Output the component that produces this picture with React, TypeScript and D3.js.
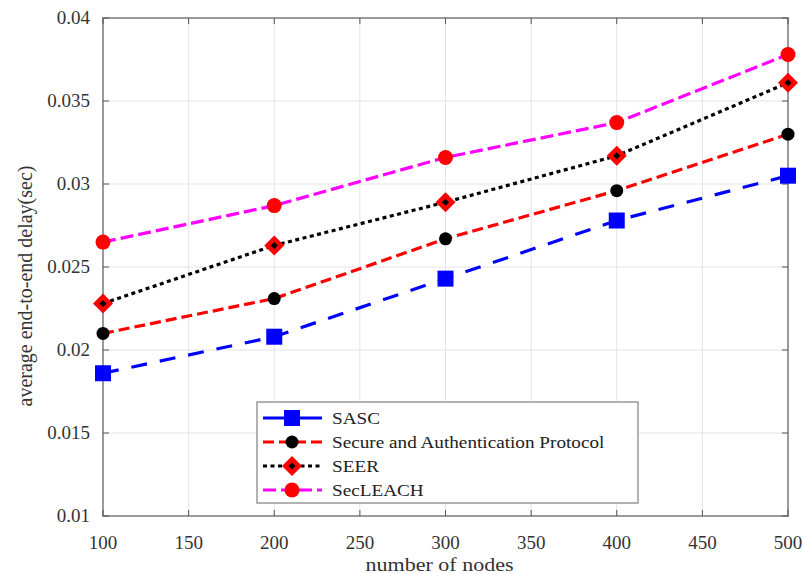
import React from 'react';
import * as d3 from 'd3';

// values
const nodes = [100, 200, 300, 400, 500];
const sasc = [0.0186, 0.0208, 0.0243, 0.0278, 0.0305];
const secAuth = [0.021, 0.0231, 0.0267, 0.0296, 0.033];
const seer = [0.0228, 0.0263, 0.0289, 0.0317, 0.0361];
const secLeach = [0.0265, 0.0287, 0.0316, 0.0337, 0.0378];

const xTicks = [100, 150, 200, 250, 300, 350, 400, 450, 500];
const yTicks = [0.01, 0.015, 0.02, 0.025, 0.03, 0.035, 0.04];

const series = [
    {name: 'SASC', values: sasc, color: '#0000ff', dash: '16,13', marker: 'square'},
    {name: 'Secure and Authentication Protocol', values: secAuth, color: '#ff0000', dash: '11,5', marker: 'circle'},
    {name: 'SEER', values: seer, color: '#000000', dash: '4,3.5', marker: 'diamond'},
    {name: 'SecLEACH', values: secLeach, color: '#ff00ff', dash: '13,5', marker: 'redcircle'},
];

const W = 803, H = 574;
const left = 103, right = 788, top = 18, bottom = 516;
const font = '"Liberation Serif", "Times New Roman", serif';

const Marker = ({type, x, y}) => {
    if (type === 'square') {
        return <rect x={x - 8} y={y - 8} width={16} height={16} fill="#0000ff" />;
    }
    if (type === 'circle') {
        return <circle cx={x} cy={y} r={6.5} fill="#000" />;
    }
    if (type === 'redcircle') {
        return <circle cx={x} cy={y} r={7.5} fill="#ff0000" />;
    }
    return (
        <g>
            <path d={`M${x},${y - 10} L${x + 10},${y} L${x},${y + 10} L${x - 10},${y} Z`} fill="#ff0000" />
            <path d={`M${x},${y - 3.5} L${x + 3.5},${y} L${x},${y + 3.5} L${x - 3.5},${y} Z`} fill="#000" />
        </g>
    );
};

export default function App() {
    const xScale = d3.scaleLinear().domain([100, 500]).range([left, right]);
    const yScale = d3.scaleLinear().domain([0.01, 0.04]).range([bottom, top]);
    const line = d3.line().x(d => xScale(d[0])).y(d => yScale(d[1]));

    const legX = 257, legY = 402, legW = 381, legH = 101;

    return (
        <svg width={W} height={H} style={{position: 'absolute', left: 0, top: 0}} fontFamily={font}>
            <rect x={0} y={0} width={W} height={H} fill="#fff" />
            {/* grid */}
            {xTicks.map(t => (
                <line key={'gx' + t} x1={xScale(t)} x2={xScale(t)} y1={top} y2={bottom} stroke="#e3e3e3" strokeWidth={1} />
            ))}
            {yTicks.map(t => (
                <line key={'gy' + t} x1={left} x2={right} y1={yScale(t)} y2={yScale(t)} stroke="#e3e3e3" strokeWidth={1} />
            ))}
            {/* box */}
            <rect x={left} y={top} width={right - left} height={bottom - top} fill="none" stroke="#9a9a9a" strokeWidth={2} />
            {xTicks.map(t => (
                <g key={'tx' + t}>
                    <line x1={xScale(t)} x2={xScale(t)} y1={bottom} y2={bottom - 6} stroke="#555" strokeWidth={1} />
                    <line x1={xScale(t)} x2={xScale(t)} y1={top} y2={top + 6} stroke="#555" strokeWidth={1} />
                    <text x={xScale(t)} y={549} fontSize={19} fill="#333" textAnchor="middle">{t}</text>
                </g>
            ))}
            {yTicks.map(t => (
                <g key={'ty' + t}>
                    <line x1={left} x2={left + 6} y1={yScale(t)} y2={yScale(t)} stroke="#555" strokeWidth={1} />
                    <line x1={right} x2={right - 6} y1={yScale(t)} y2={yScale(t)} stroke="#555" strokeWidth={1} />
                    <text x={90} y={yScale(t) + 6} fontSize={19} fill="#333" textAnchor="end">{d3.format('')(t)}</text>
                </g>
            ))}
            {/* lines */}
            {series.map(s => (
                <path key={s.name} d={line(nodes.map((n, i) => [n, s.values[i]]))} fill="none"
                      stroke={s.color} strokeWidth={3.2} strokeDasharray={s.dash} />
            ))}
            {series.map(s => nodes.map((n, i) => (
                <Marker key={s.name + n} type={s.marker} x={xScale(n)} y={yScale(s.values[i])} />
            )))}
            {/* axis titles */}
            <text transform={`translate(${(left + right) / 2 - 6}, 571) scale(1.16, 1)`} fontSize={19} fill="#333" textAnchor="middle">
                number of nodes
            </text>
            <text transform={`translate(32, ${(162 + 410) / 2}) rotate(-90)`} fontSize={20} fill="#333" textAnchor="middle">
                average end-to-end delay(sec)
            </text>
            {/* legend */}
            <rect x={legX} y={legY} width={legW} height={legH} fill="#fff" stroke="#999" strokeWidth={1.5} />
            {series.map((s, i) => {
                const cy = legY + 16 + i * 24;
                return (
                    <g key={'leg' + s.name}>
                        <line x1={263} x2={322} y1={cy} y2={cy} stroke={s.color} strokeWidth={3.2}
                              strokeDasharray={s.marker === 'square' ? null : s.dash} />
                        <Marker type={s.marker} x={292} y={cy} />
                        <text transform={`translate(332, ${cy + 6}) scale(1.13, 1)`} fontSize={17} fill="#222">{s.name}</text>
                    </g>
                );
            })}
        </svg>
    );
}
